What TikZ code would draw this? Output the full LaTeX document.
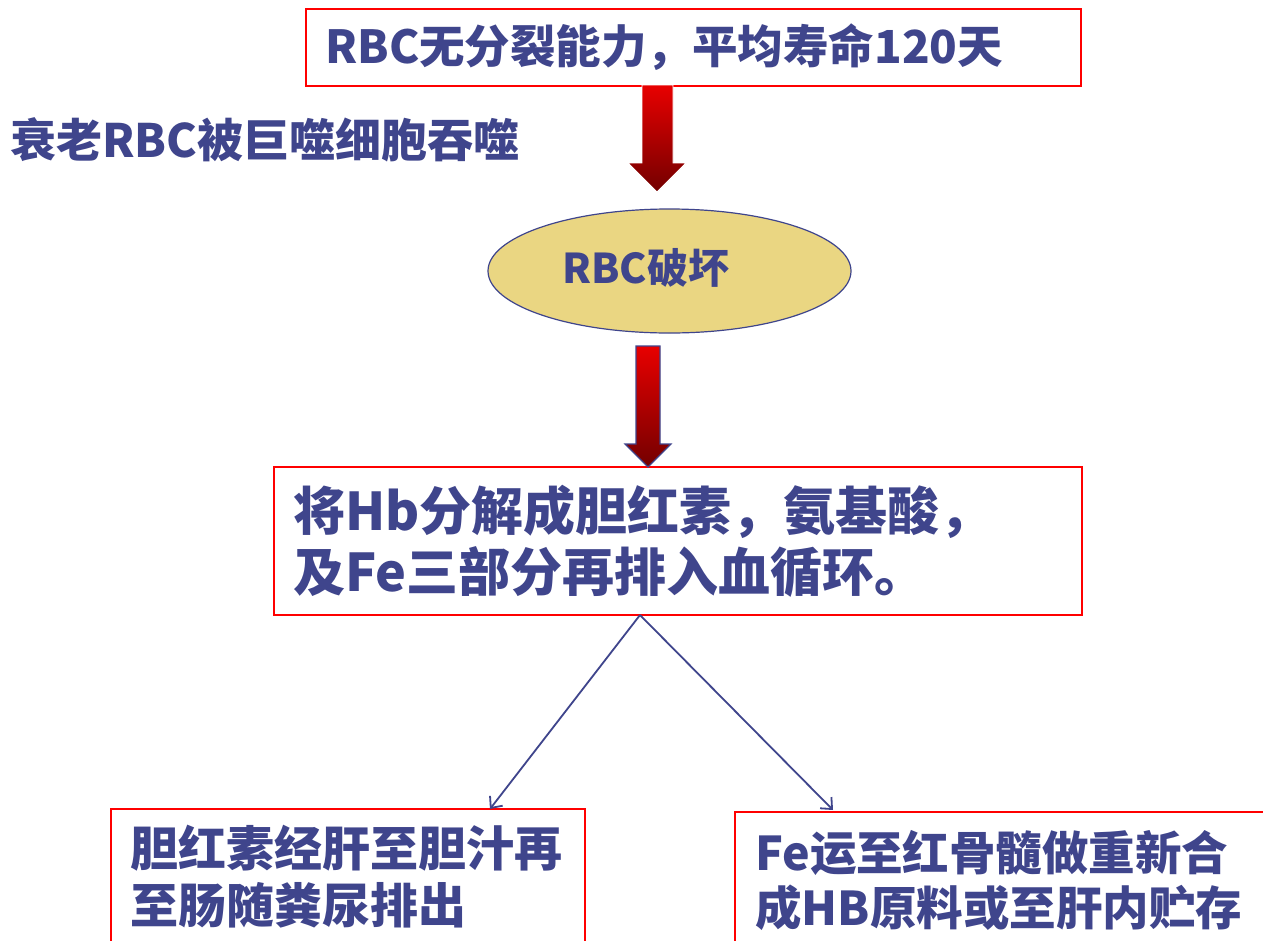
\documentclass[tikz,border=0pt]{standalone}
\usepackage{fontspec}
\setmainfont{Noto Sans CJK SC}
\usetikzlibrary{shapes.geometric,arrows.meta}
\definecolor{txt}{RGB}{63,69,140}
\definecolor{boxred}{RGB}{255,0,0}
\definecolor{ellfill}{RGB}{234,214,130}
\definecolor{arrtop}{RGB}{232,0,0}
\definecolor{arrbot}{RGB}{115,0,0}
\begin{document}
\begin{tikzpicture}[x=1pt,y=-1pt,
  redbox/.style={draw=boxred, line width=2pt, rectangle, inner sep=0pt, anchor=north west},
  lbl/.style={text=txt, font=\bfseries\fontsize{#1}{60}\selectfont, inner sep=0pt, anchor=west},
  lbl/.default=45,
  conn/.style={draw=txt, line width=1.8pt, -{Straight Barb[length=9pt,width=16pt]}},
  blockarrow/.style={top color=arrtop, bottom color=arrbot}]
\useasboundingbox (0,0) rectangle (1263,940);
\clip (0,0) rectangle (1263,940);
\fill[white] (0,0) rectangle (1263,940);

% boxes
\node[redbox, minimum width=775pt, minimum height=77pt] (top) at (305,8) {};
\node[redbox, minimum width=808pt, minimum height=148pt] (mid) at (273,466) {};
\node[redbox, minimum width=474pt, minimum height=200pt] (lb) at (110,808) {};
\node[redbox, minimum width=600pt, minimum height=200pt] (rb) at (734,811) {};
\node[ellipse, draw=txt, fill=ellfill, line width=1.2pt, minimum width=363pt, minimum height=124pt, inner sep=0pt] (ell) at (669.5,271) {};

% texts
\node[lbl=45.5] (t1) at (325,47) {RBC无分裂能力，平均寿命120天};
\node[lbl=46] (side) at (10,140) {衰老RBC被巨噬细胞吞噬};
\node[lbl=41] (te) at (562,268) {RBC破坏};
\node[lbl=52] (m1) at (293,512) {将Hb分解成胆红素，氨基酸，};
\node[lbl=52] (m2) at (293,572) {及Fe三部分再排入血循环。};
\node[lbl=48] (l1) at (130,848) {胆红素经肝至胆汁再};
\node[lbl=48] (l2) at (130,905) {至肠随粪尿排出};
\node[lbl=46.5] (r1) at (755,853) {Fe运至红骨髓做重新合};
\node[lbl=46.5] (r2) at (755,908) {成HB原料或至肝内贮存};

% block arrows
\shade[blockarrow, draw=white, line width=0.8pt] (642,85) -- (673,85) -- (673,163) -- (686,163) -- (657,192) -- (628,163) -- (642,163) -- cycle;
\shade[blockarrow, draw=txt, line width=1.2pt] (636,346) -- (660,346) -- (660,444) -- (671,444) -- (648,467) -- (625,444) -- (636,444) -- cycle;

% connectors
\coordinate (split) at (640,615);
\coordinate (lt) at (490,809);
\coordinate (rt) at (833,810);
\draw[conn] (split) -- (lt);
\draw[conn] (split) -- (rt);
\end{tikzpicture}
\end{document}
